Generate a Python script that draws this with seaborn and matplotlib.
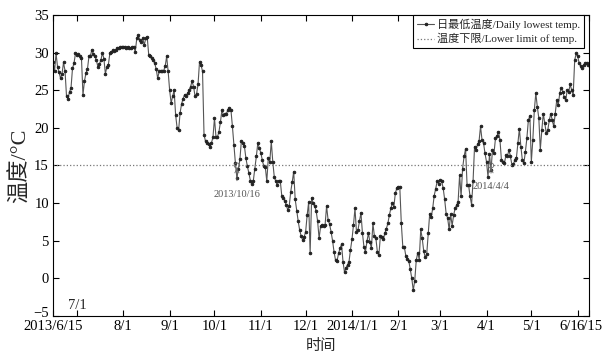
import pandas as pd
import seaborn as sns
import matplotlib
matplotlib.use("Agg")
import matplotlib.pyplot as plt
from matplotlib.transforms import ScaledTranslation

# daily lowest temperature, read month by month (2013/6/15 - 2014/6/8)
jun_2013 = [28.8, 27.6, 29.9, 28.1, 27.4, 26.6, 27.2, 28.7, 27.6, 24.2, 23.9, 24.8, 25.3, 27.9, 28.6, 29.9]
jul_2013 = [29.7, 29.8, 29.5, 29.3, 24.4, 26.2, 27.3, 27.8, 29.5, 29.6, 30.4, 29.8, 29.5, 29.0, 28.1, 28.5,
            29.0, 30.0, 29.2, 27.2, 28.1, 28.4, 29.9, 30.1, 30.3, 30.2, 30.4, 30.6, 30.6, 30.7, 30.8]
aug_2013 = [30.8, 30.8, 30.6, 30.8, 30.6, 30.6, 30.7, 30.8, 30.1, 31.9, 32.3, 31.7, 31.4, 31.9, 31.0, 31.9,
            32.1, 29.7, 29.6, 29.3, 29.0, 28.6, 27.8, 26.6, 27.5, 27.5, 27.5, 27.6, 28.2, 29.5, 27.5]
sep_2013 = [25.0, 23.3, 24.2, 25.0, 21.7, 20.0, 19.7, 22.0, 23.2, 23.9, 24.4, 24.2, 24.6, 25.0, 25.5,
            26.2, 25.5, 24.2, 24.5, 25.8, 28.8, 28.4, 27.5, 19.1, 18.2, 18.0, 17.8, 17.5, 18.0, 18.8]
oct_2013 = [21.3, 18.8, 18.8, 19.5, 20.8, 22.4, 21.7, 21.8, 21.9, 22.4, 22.6, 22.4, 20.2, 17.7, 15.3, 13.3,
            14.6, 15.8, 18.3, 18.0, 17.6, 16.0, 14.9, 14.0, 13.0, 12.6, 13.0, 14.6, 16.2, 18.0, 17.3]
nov_2013 = [16.7, 15.7, 14.9, 14.8, 12.9, 16.0, 15.5, 18.2, 15.5, 13.5, 12.9, 12.4, 13.0, 13.0, 11.0,
            10.7, 10.3, 9.8, 9.1, 9.6, 11.5, 12.8, 14.2, 10.5, 9.0, 7.6, 6.4, 5.6, 5.1, 5.5]
dec_2013 = [6.2, 8.4, 10.1, 3.4, 10.7, 10.0, 9.6, 9.0, 7.6, 5.3, 6.9, 7.1, 6.9, 7.1, 9.6, 7.8,
            7.2, 6.2, 5.0, 3.5, 2.4, 2.3, 3.3, 4.0, 4.5, 2.2, 0.8, 1.4, 1.8, 2.2, 3.8]
jan_2014 = [5.2, 7.1, 9.3, 6.2, 6.4, 7.6, 8.7, 6.0, 4.2, 3.5, 4.9, 6.0, 4.8, 4.0, 7.3, 5.6,
            5.3, 3.5, 3.1, 5.6, 5.5, 5.2, 6.0, 6.6, 7.3, 8.4, 9.3, 10.0, 9.5, 11.3, 12.0]
feb_2014 = [12.1, 12.1, 7.3, 4.2, 4.2, 3.0, 2.6, 2.3, 1.2, 0.0, -1.6, -0.3, 2.4, 3.4,
            2.5, 6.5, 5.3, 3.6, 2.8, 3.2, 6.0, 8.6, 8.1, 9.3, 11.0, 11.9, 12.9, 12.6]
mar_2014 = [13.1, 12.9, 12.0, 10.5, 8.6, 8.0, 6.5, 8.5, 7.0, 8.4, 9.3, 9.7, 10.2, 13.7, 10.9, 14.6,
            16.2, 17.2, 12.4, 12.4, 10.9, 9.8, 12.9, 17.5, 17.1, 17.8, 18.2, 20.2, 18.4, 18.0, 16.6]
apr_2014 = [15.5, 13.5, 16.5, 14.4, 17.0, 16.6, 18.6, 18.9, 19.5, 18.4, 15.7, 15.5, 15.3, 16.4, 16.2,
            17.1, 16.2, 15.1, 15.2, 15.7, 16.0, 18.0, 19.9, 17.5, 15.7, 15.3, 16.8, 18.6, 21.0, 21.6]
may_2014 = [15.5, 18.4, 22.4, 24.6, 22.8, 21.3, 17.1, 19.7, 21.9, 20.6, 19.3, 19.7, 21.0, 21.9, 21.0, 20.2,
            21.9, 23.7, 23.0, 24.6, 25.3, 24.8, 24.1, 23.7, 25.0, 24.8, 25.8, 25.0, 24.4, 29.0, 29.9]
jun_2014 = [29.5, 28.6, 28.2, 27.9, 28.3, 28.6, 28.6, 28.4]

lower_limit = 15
cross_dates = ["2013-10-16", "2014-04-04"]
cross_labels = ["2013/10/16", "2014/4/4"]

tick_dates = ["2013-06-15", "2013-07-01", "2013-08-01", "2013-09-01", "2013-10-01", "2013-11-01",
              "2013-12-01", "2014-01-01", "2014-02-01", "2014-03-01", "2014-04-01", "2014-05-01",
              "2014-06-01"]
tick_labels = ["2013/6/15", "", "8/1", "9/1", "10/1", "11/1", "12/1", "2014/1/1", "2/1", "3/1",
               "4/1", "5/1", "6/1"]

temps = (jun_2013 + jul_2013 + aug_2013 + sep_2013 + oct_2013 + nov_2013 + dec_2013
         + jan_2014 + feb_2014 + mar_2014 + apr_2014 + may_2014 + jun_2014)
df = pd.DataFrame({"Date": pd.date_range("2013-06-15", periods=len(temps), freq="D"), "Temp": temps})

sns.set_theme(style="ticks", rc={"xtick.direction": "in", "ytick.direction": "in"})
plt.rcParams["font.family"] = ["Liberation Serif", "Noto Sans CJK SC"]

fig = plt.figure(figsize=(6.03, 3.59), dpi=100)
ax = fig.add_axes([0.088, 0.12, 0.889, 0.838])

sns.lineplot(data=df, x="Date", y="Temp", ax=ax, color="#555555", linewidth=0.8,
             marker="o", markersize=1.8, markeredgecolor="#222222", markerfacecolor="#222222",
             label="日最低温度/Daily lowest temp.")
ax.axhline(lower_limit, color="#777777", linestyle=":", linewidth=0.9, label="温度下限/Lower limit of temp.")

cross = pd.DataFrame({"Date": pd.to_datetime(cross_dates), "Temp": [lower_limit] * len(cross_dates)})
sns.scatterplot(data=cross, x="Date", y="Temp", ax=ax, marker="o", s=14, facecolor="none",
                edgecolor="#666666", linewidth=0.6, legend=False, zorder=4)
for d, lab, ty in zip(cross["Date"], cross_labels, [11.2, 12.2]):
    ax.annotate(lab, xy=(d, lower_limit - 0.3), xytext=(d, ty), ha="center", va="center",
                fontsize=7.5, color="#555555",
                arrowprops=dict(arrowstyle="->", color="#666666", lw=0.6, shrinkA=4, shrinkB=0))

end = df["Date"].iloc[-1] + pd.Timedelta(hours=16)
ax.set_xlim(df["Date"].iloc[0], end)
ax.set_ylim(-5, 35)
ax.set_yticks(range(-5, 36, 5))
ax.set_xticks(list(pd.to_datetime(tick_dates)) + [end])
ax.set_xticklabels(tick_labels + ["6/15"])
ax.get_xticklabels()[-2].set_ha("right")
ax.annotate("7/1", xy=(pd.Timestamp("2013-07-01"), -5), xytext=(0, 3), textcoords="offset points",
            ha="center", va="bottom", fontsize=10.5)

ax.tick_params(axis="both", which="major", length=4, width=0.8, top=True, right=True,
               labelsize=10.5, pad=3, color="black", labelcolor="black")
for s in ax.spines.values():
    s.set_color("black")
    s.set_linewidth(0.8)

# lift the -5 label a little so it sits above the first date label
low = ax.get_yticklabels()[0]
low.set_transform(low.get_transform() + ScaledTranslation(0, 3 / 72, fig.dpi_scale_trans))

ax.set_xlabel("时间", fontsize=11, labelpad=4)
ax.set_ylabel("温度/°C", fontsize=16, labelpad=2)

leg = ax.legend(loc="upper right", bbox_to_anchor=(0.991, 1.0), borderaxespad=0, fontsize=8,
                frameon=True, fancybox=False, edgecolor="black", framealpha=1, handlelength=1.5,
                borderpad=0.35, labelspacing=0.25, handletextpad=0.3)
leg.get_frame().set_linewidth(0.8)

plt.savefig("out.png", dpi=100)
plt.close()
